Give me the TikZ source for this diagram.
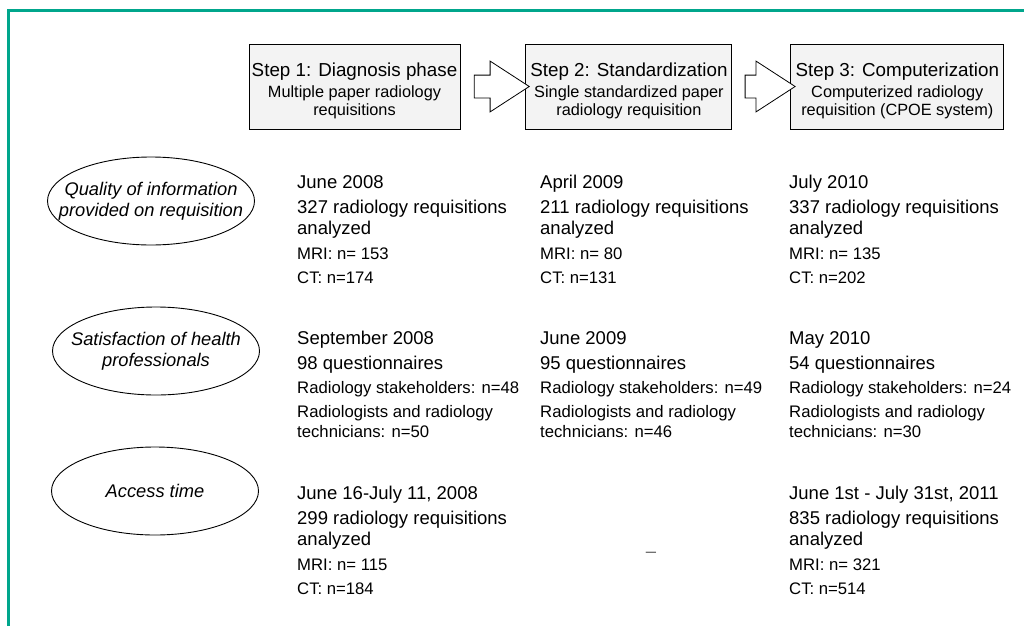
\documentclass[tikz,border=0pt]{standalone}
\usepackage{fontspec}
\setmainfont{Liberation Sans}
\usetikzlibrary{positioning,calc,shapes.geometric,shapes.arrows}

\definecolor{framegreen}{RGB}{0,166,140}
\definecolor{stepgray}{RGB}{243,243,243}
\newcommand{\bigsz}{\fontsize{18.5}{21}\selectfont}
\newcommand{\smallsz}{\fontsize{16.7}{20}\selectfont}
\newcommand{\stepsub}{\fontsize{16.3}{18}\selectfont}

\begin{document}
\begin{tikzpicture}[x=1pt, y=-1pt,
    stepbox/.style={rectangle, draw=black, fill=stepgray, line width=0.9pt,
    minimum height=85pt, inner sep=0pt},
    steptext/.style={align=center, inner sep=0pt, yshift=-4pt, font=\fontsize{18.8}{18}\selectfont},
    steparrow/.style={single arrow, draw=black, fill=white, line width=0.8pt,
    single arrow head extend=14pt, single arrow tip angle=66, inner sep=0pt},
    topic/.style={ellipse, draw=black, line width=0.9pt, minimum width=207pt,
    minimum height=88pt, inner sep=0pt},
    topictext/.style={font=\fontsize{18.3}{21}\selectfont\itshape, align=center},
    datablock/.style={anchor=north west, inner sep=0pt, align=left, font=\bigsz}]

    \useasboundingbox (0,0) rectangle (1024,626);
    \draw [framegreen, line width=3pt] (8,626) -- (8,11) -- (1024,11);

    % the three steps
    \node (step1) [stepbox, minimum width=211pt, label={[steptext]center:Step 1: Diagnosis phase\\[3pt]
        {\stepsub Multiple paper radiology}\\{\stepsub requisitions}}] at (354.5,86.5) {};
    \node (step2) [stepbox, minimum width=206pt, right=65pt of step1, label={[steptext]center:Step 2: Standardization\\[3pt]
        {\stepsub Single standardized paper}\\{\stepsub radiology requisition}}] {};
    \node (step3) [stepbox, minimum width=213pt, right=58pt of step2, label={[steptext]center:Step 3: Computerization\\[3pt]
        {\stepsub Computerized radiology}\\{\stepsub requisition (CPOE system)}}] {};

    \node (arrow12) [steparrow, minimum height=55pt] at ($(step1.east)!0.5!(step2.west)$)
    {\vrule width 0pt height 11pt depth 11pt};
    \node (arrow23) [steparrow, minimum height=50pt] at ($(step2.east)!0.5!(step3.west)$)
    {\vrule width 0pt height 11pt depth 11pt};

    % outcomes
    \node (quality) [topic, label={[topictext]center:Quality of information\\provided on requisition}] at (151,201) {};
    \node (satisf) [topic, label={[topictext]center:Satisfaction of health\\professionals}] at (156,351) {};
    \node (access) [topic, label={[topictext]center:Access time}] at (155,491) {};

    % quality of information
    \node (quality1) [datablock] at (297,175) {
        June 2008\\[4pt] 327 radiology requisitions\\ analyzed\\[4pt]
        {\smallsz MRI: n= 153}\\[3pt] {\smallsz CT: n=174}
    };
    \node (quality2) [datablock] at (540,175) {
        April 2009\\[4pt] 211 radiology requisitions\\ analyzed\\[4pt]
        {\smallsz MRI: n= 80}\\[3pt] {\smallsz CT: n=131}
    };
    \node (quality3) [datablock] at (789,175) {
        July 2010\\[4pt] 337 radiology requisitions\\ analyzed\\[4pt]
        {\smallsz MRI: n= 135}\\[3pt] {\smallsz CT: n=202}
    };

    % satisfaction
    \node (satisf1) [datablock] at (297,331) {
        September 2008\\[4pt] 98 questionnaires\\[3pt]
        {\smallsz Radiology stakeholders: n=48}\\[3pt]
        {\smallsz Radiologists and radiology}\\[-1pt] {\smallsz technicians: n=50}
    };
    \node (satisf2) [datablock] at (540,331) {
        June 2009\\[4pt] 95 questionnaires\\[3pt]
        {\smallsz Radiology stakeholders: n=49}\\[3pt]
        {\smallsz Radiologists and radiology}\\[-1pt] {\smallsz technicians: n=46}
    };
    \node (satisf3) [datablock] at (789,331) {
        May 2010\\[4pt] 54 questionnaires\\[3pt]
        {\smallsz Radiology stakeholders: n=24}\\[3pt]
        {\smallsz Radiologists and radiology}\\[-1pt] {\smallsz technicians: n=30}
    };

    % access time
    \node (access1) [datablock] at (297,486) {
        June 16-July 11, 2008\\[4pt] 299 radiology requisitions\\ analyzed\\[4pt]
        {\smallsz MRI: n= 115}\\[3pt] {\smallsz CT: n=184}
    };
    \node (access2) [font=\bigsz, text=black!60, inner sep=0pt] at (651,555) {--};
    \node (access3) [datablock] at (789,486) {
        June 1st - July 31st, 2011\\[4pt] 835 radiology requisitions\\ analyzed\\[4pt]
        {\smallsz MRI: n= 321}\\[3pt] {\smallsz CT: n=514}
    };
\end{tikzpicture}
\end{document}
